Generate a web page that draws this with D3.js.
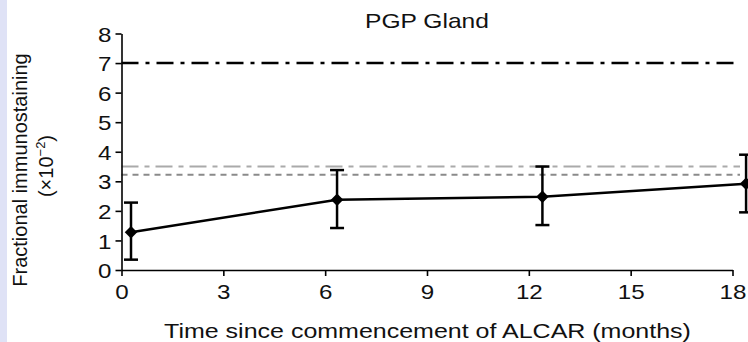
<!DOCTYPE html>
<html><head><meta charset="utf-8">
<script src="https://cdn.jsdelivr.net/npm/d3@7"></script>
<style>
body{margin:0;background:#fff;}
svg{display:block;font-family:"Liberation Sans",Arial,sans-serif;}
</style></head>
<body>
<svg id="c" width="748" height="342"></svg>
<script>
const months = [0.28, 6.35, 12.4, 18.4];
const means = [1.28, 2.38, 2.48, 2.92];
const errLow = [0.35, 1.42, 1.52, 1.95];
const errHigh = [2.28, 3.38, 3.50, 3.90];
const xTicks = [0, 3, 6, 9, 12, 15, 18];
const yTicks = [0, 1, 2, 3, 4, 5, 6, 7, 8];
const refValues = [7, 3.5, 3.22];
const title = "PGP Gland";
const xLabel = "Time since commencement of ALCAR (months)";
const yLabel1 = "Fractional immunostaining";

const svg = d3.select("#c");
svg.append("rect").attr("x",0).attr("y",0).attr("width",7).attr("height",342).attr("fill","#dfe2f6");

const x = d3.scaleLinear().domain([0,18]).range([121.5,732.5]);
const y = d3.scaleLinear().domain([0,8]).range([270,33.5]);

function stretch(sel, k){
  sel.each(function(){
    const w = this.getComputedTextLength();
    d3.select(this).attr("textLength", w*k).attr("lengthAdjust","spacingAndGlyphs");
  });
}

// reference lines
const refStyles = [
  {stroke:"#000", w:2.5, dash:"17,7,4,7"},
  {stroke:"#aaaaaa", w:2, dash:"17,6,5,6"},
  {stroke:"#8a8a8a", w:2, dash:"6,5"}
];
refValues.forEach((v,i)=>{
  svg.append("line").attr("x1",x(0)).attr("x2",740)
    .attr("y1",y(v)).attr("y2",y(v))
    .attr("stroke",refStyles[i].stroke).attr("stroke-width",refStyles[i].w)
    .attr("stroke-dasharray",refStyles[i].dash);
});

// axes
const xAxis = d3.axisBottom(x).tickValues(xTicks).tickSize(6).tickPadding(4).tickSizeOuter(0);
const yAxis = d3.axisLeft(y).tickValues(yTicks).tickSize(6).tickPadding(4).tickSizeOuter(0);
const gx = svg.append("g").attr("transform",`translate(0,${y(0)})`).call(xAxis);
const gy = svg.append("g").attr("transform",`translate(${x(0)},0)`).call(yAxis);
[gx,gy].forEach(g=>{
  g.attr("font-family",null).attr("font-size",null);
  g.selectAll("path,line").attr("stroke","#000").attr("stroke-width",1.6);
  g.selectAll("text").attr("fill","#111").style("font-size","21px");
});
gx.selectAll("text").attr("dy","0.9em");
gy.selectAll("text").attr("dy","0.36em");
stretch(gx.selectAll("text"),1.15);
stretch(gy.selectAll("text"),1.15);

// data
const data = months.map((m,i)=>({m, v:means[i], lo:errLow[i], hi:errHigh[i]}));
svg.append("path").datum(data)
  .attr("d", d3.line().x(d=>x(d.m)).y(d=>y(d.v)))
  .attr("fill","none").attr("stroke","#000").attr("stroke-width",2.5);
const eb = svg.append("g").attr("stroke","#000").attr("stroke-width",2.5);
data.forEach(d=>{
  eb.append("line").attr("x1",x(d.m)).attr("x2",x(d.m)).attr("y1",y(d.lo)).attr("y2",y(d.hi));
  eb.append("line").attr("x1",x(d.m)-7).attr("x2",x(d.m)+7).attr("y1",y(d.lo)).attr("y2",y(d.lo));
  eb.append("line").attr("x1",x(d.m)-7).attr("x2",x(d.m)+7).attr("y1",y(d.hi)).attr("y2",y(d.hi));
});
svg.append("g").selectAll("path").data(data).join("path")
  .attr("transform",d=>`translate(${x(d.m)},${y(d.v)}) rotate(45)`)
  .attr("d", d3.symbol(d3.symbolSquare, 78))
  .attr("fill","#000");

// texts
const tt = svg.append("text").attr("x",427).attr("y",28).attr("text-anchor","middle")
  .style("font-size","21px").attr("fill","#111").text(title);
stretch(tt,1.17);
const xl = svg.append("text").attr("x",427.5).attr("y",338).attr("text-anchor","middle")
  .style("font-size","21px").attr("fill","#111").text(xLabel);
stretch(xl,1.19);
svg.append("text").attr("transform","translate(27,170) rotate(-90)").attr("text-anchor","middle")
  .style("font-size","20px").attr("fill","#111").text(yLabel1);
const t2 = svg.append("text").attr("transform","translate(53,166) rotate(-90)").attr("text-anchor","middle")
  .style("font-size","20px").attr("fill","#111");
t2.append("tspan").text("(\u00D710");
t2.append("tspan").attr("dy",-8).style("font-size","13px").text("\u22122");
t2.append("tspan").attr("dy",8).text(")");
</script>
</body></html>
